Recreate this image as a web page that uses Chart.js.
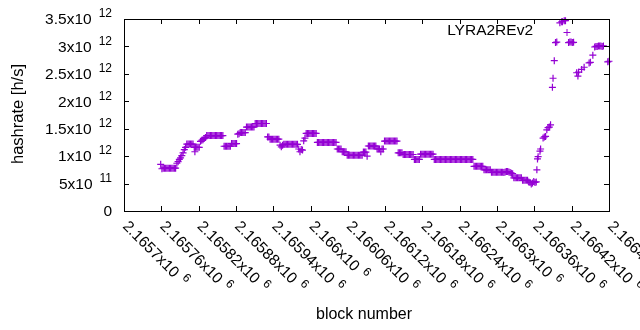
<html>
  <head>
    <script type="text/javascript" src="https://cdn.jsdelivr.net/npm/chart.js@4/dist/chart.umd.min.js"></script>
    <style>
      body { margin: 0; background: #fff; }
    </style>
  </head>
  <body>
    <canvas id="hashrate" width="640" height="330"></canvas>
    <script type="text/javascript">

// block heights (x) and hashrate in units of 10^12 h/s (y)
var blocks = [
  2165759,
  2165761, 2165763, 2165765, 2165767, 2165769, 2165771, 2165773, 2165775, 2165777, 2165779, 2165781, 2165783,
  2165785, 2165787, 2165789, 2165791, 2165793, 2165795, 2165797, 2165799,
  2165801, 2165803, 2165805, 2165807, 2165809, 2165811,
  2165813, 2165814, 2165815, 2165817, 2165819, 2165821,
  2165823, 2165825, 2165827, 2165829, 2165831,
  2165833, 2165835, 2165837, 2165839, 2165841, 2165843, 2165845, 2165847, 2165849, 2165851, 2165853, 2165855, 2165857, 2165859,
  2165861, 2165863, 2165865, 2165867, 2165869, 2165871,
  2165873, 2165875, 2165877, 2165879, 2165881,
  2165883, 2165885, 2165887, 2165889, 2165891, 2165893, 2165895,
  2165897, 2165899, 2165901, 2165903, 2165905, 2165907, 2165909,
  2165911, 2165913, 2165915, 2165917, 2165919, 2165921, 2165923, 2165925, 2165927, 2165929,
  2165931, 2165933, 2165935, 2165937, 2165939, 2165941, 2165943, 2165945, 2165947, 2165949,
  2165951, 2165953, 2165955,
  2165957, 2165959, 2165961, 2165963, 2165965, 2165967, 2165969, 2165971, 2165973, 2165975, 2165977, 2165979,
  2165981, 2165983, 2165985, 2165987,
  2165989, 2165991,
  2165993, 2165995, 2165997, 2165999, 2166001, 2166003, 2166005, 2166007, 2166009,
  2166011, 2166013, 2166015, 2166017, 2166019, 2166021, 2166023, 2166025, 2166027, 2166029, 2166031, 2166033, 2166035, 2166037, 2166039, 2166041,
  2166043, 2166045, 2166047, 2166049,
  2166051, 2166053, 2166055, 2166057,
  2166059, 2166061, 2166063, 2166065, 2166067, 2166069, 2166071, 2166073, 2166075, 2166077, 2166079, 2166081, 2166083,
  2166085, 2166087, 2166089,
  2166091,
  2166093, 2166095, 2166097, 2166099, 2166101, 2166103, 2166105,
  2166107, 2166109, 2166111, 2166113, 2166115, 2166117,
  2166119, 2166121, 2166123, 2166125, 2166127, 2166129, 2166131, 2166133, 2166135, 2166137, 2166139,
  2166141, 2166143, 2166145, 2166147,
  2166149, 2166151, 2166153, 2166155, 2166157, 2166159, 2166161, 2166163, 2166165,
  2166167, 2166169, 2166171, 2166173, 2166175,
  2166177, 2166179, 2166181, 2166183, 2166185, 2166187, 2166189, 2166191, 2166193, 2166195, 2166197,
  2166199, 2166201, 2166203, 2166205, 2166207, 2166209, 2166211, 2166213, 2166215, 2166217, 2166219, 2166221, 2166223, 2166225, 2166227, 2166229,
  2166231, 2166233, 2166235, 2166237, 2166239, 2166241, 2166243, 2166245, 2166247, 2166249, 2166251, 2166253, 2166255, 2166257, 2166259, 2166261,
  2166263, 2166265, 2166267, 2166269, 2166271, 2166273, 2166275, 2166277,
  2166279, 2166281, 2166283, 2166285, 2166287, 2166289,
  2166291, 2166293, 2166295, 2166297, 2166299, 2166301, 2166303, 2166305, 2166307, 2166309,
  2166311, 2166313, 2166315, 2166317, 2166319, 2166321, 2166323, 2166325,
  2166327, 2166329, 2166331, 2166333, 2166335, 2166337, 2166339,
  2166341, 2166343, 2166345, 2166347, 2166349,
  2166351, 2166353, 2166355, 2166357, 2166359, 2166361, 2166363,
  2166364, 2166365, 2166366, 2166369, 2166370,
  2166374, 2166376, 2166378,
  2166380, 2166382, 2166384, 2166386,
  2166389, 2166390, 2166392, 2166394, 2166396,
  2166401, 2166404, 2166405, 2166408, 2166410,
  2166415, 2166417, 2166419, 2166421, 2166423,
  2166428, 2166430, 2166431, 2166436, 2166440,
  2166448, 2166450, 2166454,
  2166457, 2166459, 2166461, 2166463, 2166465, 2166467, 2166469, 2166471,
  2166478, 2166480
]

var hashrate = [
  0.85,
  0.77, 0.78, 0.78, 0.78, 0.78, 0.78, 0.78, 0.78, 0.78, 0.78, 0.78, 0.78,
  0.87, 0.90, 0.94, 0.97, 1.01, 1.06, 1.12, 1.16,
  1.22, 1.22, 1.22, 1.22, 1.22, 1.22,
  1.16, 1.08, 1.16, 1.16, 1.16, 1.16,
  1.27, 1.29, 1.30, 1.32, 1.34,
  1.375, 1.375, 1.375, 1.375, 1.375, 1.375, 1.375, 1.375, 1.375, 1.375, 1.375, 1.375, 1.375, 1.375,
  1.18, 1.18, 1.18, 1.18, 1.18, 1.18,
  1.23, 1.23, 1.23, 1.23, 1.23,
  1.40, 1.41, 1.43, 1.43, 1.43, 1.43, 1.43,
  1.53, 1.53, 1.53, 1.53, 1.53, 1.53, 1.53,
  1.595, 1.595, 1.595, 1.595, 1.595, 1.595, 1.595, 1.595, 1.595, 1.595,
  1.35, 1.35, 1.31, 1.31, 1.31, 1.31, 1.31, 1.31, 1.31, 1.31,
  1.20, 1.17, 1.20,
  1.215, 1.215, 1.215, 1.215, 1.215, 1.215, 1.215, 1.215, 1.215, 1.215, 1.215, 1.215,
  1.13, 1.08, 1.12, 1.11,
  1.28, 1.33,
  1.415, 1.415, 1.415, 1.415, 1.415, 1.415, 1.415, 1.415, 1.415,
  1.25, 1.25, 1.25, 1.25, 1.25, 1.25, 1.25, 1.25, 1.25, 1.25, 1.25, 1.25, 1.25, 1.25, 1.25, 1.25,
  1.13, 1.13, 1.13, 1.13,
  1.08, 1.08, 1.08, 1.08,
  1.015, 1.015, 1.015, 1.015, 1.015, 1.015, 1.015, 1.015, 1.015, 1.015, 1.015, 1.015, 1.015,
  1.075, 1.075, 1.075,
  1.00,
  1.185, 1.185, 1.185, 1.185, 1.185, 1.185, 1.185,
  1.13, 1.13, 1.13, 1.08, 1.13, 1.13,
  1.275, 1.275, 1.275, 1.275, 1.275, 1.275, 1.275, 1.275, 1.275, 1.275, 1.275,
  1.06, 1.06, 1.06, 1.06,
  1.03, 1.03, 1.03, 1.03, 1.03, 1.03, 1.03, 1.03, 1.03,
  0.94, 0.94, 0.94, 0.94, 0.94,
  1.035, 1.035, 1.035, 1.035, 1.035, 1.035, 1.035, 1.035, 1.035, 1.035, 1.035,
  0.94, 0.94, 0.94, 0.94, 0.94, 0.94, 0.94, 0.94, 0.94, 0.94, 0.94, 0.94, 0.94, 0.94, 0.94, 0.94,
  0.94, 0.94, 0.94, 0.94, 0.94, 0.94, 0.94, 0.94, 0.94, 0.94, 0.94, 0.94, 0.94, 0.94, 0.94, 0.94,
  0.815, 0.815, 0.815, 0.815, 0.815, 0.815, 0.815, 0.815,
  0.75, 0.75, 0.75, 0.75, 0.75, 0.75,
  0.705, 0.705, 0.705, 0.705, 0.705, 0.705, 0.705, 0.705, 0.705, 0.705,
  0.70, 0.71, 0.72, 0.72, 0.71, 0.70, 0.69, 0.68,
  0.605, 0.605, 0.605, 0.605, 0.605, 0.605, 0.605,
  0.56, 0.56, 0.56, 0.56, 0.56,
  0.53, 0.52, 0.49, 0.51, 0.54, 0.52, 0.53,
  0.75, 0.95, 0.99, 1.09, 1.13,
  1.33, 1.35, 1.36,
  1.48, 1.52, 1.53, 1.57,
  2.255, 2.42, 2.74, 3.07, 3.08,
  3.43, 3.45, 3.45, 3.47, 3.47,
  3.07, 3.08, 3.08, 3.07, 3.075,
  2.52, 2.46, 2.53, 2.58, 2.62,
  2.70, 2.71, 2.84,
  2.99, 3.00, 3.00, 3.01, 3.01, 3.01, 3.00, 3.01,
  2.72, 2.73
]

var series_label = "LYRA2REv2"

var x_tick_values   = [2165700, 2165760, 2165820, 2165880, 2165940, 2166000, 2166060,
                       2166120, 2166180, 2166240, 2166300, 2166360, 2166420, 2166480]
var x_tick_mantissa = ["2.1657", "2.16576", "2.16582", "2.16588", "2.16594", "2.166", "2.16606",
                       "2.16612", "2.16618", "2.16624", "2.1663", "2.16636", "2.16642", "2.16648"]
var x_tick_exponent = "6"

var y_tick_values   = [0, 0.5, 1, 1.5, 2, 2.5, 3, 3.5]
var y_tick_mantissa = ["0", "5", "1", "1.5", "2", "2.5", "3", "3.5"]
var y_tick_exponent = ["", "11", "12", "12", "12", "12", "12", "12"]

var x_title = "block number"
var y_title = "hashrate [h/s]"

if (blocks.length != hashrate.length) console.error("length mismatch", blocks.length, hashrate.length)

var purple = "#9400d3"
var font_main = '15.5px "Liberation Sans"'
var font_sup = '12px "Liberation Sans"'

// gnuplot style frame: box, inward mirrored ticks, x10^n labels, key
var gnuplot_frame = {
  id: "gnuplot_frame",
  afterDraw: function(chart) {
    var ctx = chart.ctx
    var a = chart.chartArea
    var xs = chart.scales.x
    var ys = chart.scales.y
    ctx.save()
    ctx.strokeStyle = "#000"
    ctx.lineWidth = 1
    ctx.strokeRect(a.left + 0.5, a.top + 0.5, a.right - a.left, a.bottom - a.top)

    ctx.beginPath()
    y_tick_values.forEach(function(v) {
      var py = Math.round(ys.getPixelForValue(v)) + 0.5
      ctx.moveTo(a.left, py); ctx.lineTo(a.left + 5, py)
      ctx.moveTo(a.right, py); ctx.lineTo(a.right - 5, py)
    })
    x_tick_values.forEach(function(v) {
      var px = Math.round(xs.getPixelForValue(v)) + 0.5
      ctx.moveTo(px, a.bottom); ctx.lineTo(px, a.bottom - 5)
      ctx.moveTo(px, a.top); ctx.lineTo(px, a.top + 5)
    })
    ctx.stroke()

    ctx.fillStyle = "#000"
    ctx.textBaseline = "middle"

    // y tick labels
    y_tick_values.forEach(function(v, i) {
      var py = ys.getPixelForValue(v)
      var right = 112
      ctx.textAlign = "right"
      if (y_tick_exponent[i]) {
        ctx.font = font_sup
        var w = ctx.measureText(y_tick_exponent[i]).width
        ctx.fillText(y_tick_exponent[i], right, py - 5)
        ctx.font = font_main
        ctx.fillText(y_tick_mantissa[i] + "x10", right - w - 7, py + 1)
      } else {
        ctx.font = font_main
        ctx.fillText(y_tick_mantissa[i], right, py + 1)
      }
    })

    // x tick labels, rotated by -45 deg (reading downwards)
    x_tick_values.forEach(function(v, i) {
      var px = xs.getPixelForValue(v)
      ctx.save()
      ctx.translate(px + 1, 224)
      ctx.rotate(Math.PI / 4)
      ctx.textAlign = "left"
      ctx.font = font_main
      var txt = x_tick_mantissa[i] + "x10"
      var w = ctx.measureText(txt).width
      ctx.fillText(txt, 0, 0)
      ctx.font = font_sup
      ctx.fillText(x_tick_exponent, w + 6, -5)
      ctx.restore()
    })

    // axis titles
    ctx.font = '16px "Liberation Sans"'
    ctx.textAlign = "center"
    ctx.fillText(x_title, 364, 315)
    ctx.save()
    ctx.translate(18, 114)
    ctx.rotate(-Math.PI / 2)
    ctx.font = '16.5px "Liberation Sans"'
    ctx.fillText(y_title, 0, 0)
    ctx.restore()

    // key
    ctx.font = '15.5px "Liberation Sans"'
    ctx.textAlign = "right"
    ctx.fillText(chart.data.datasets[0].label, 533, 31)
    ctx.strokeStyle = purple
    ctx.beginPath()
    ctx.moveTo(563.5, 32.5); ctx.lineTo(570.5, 32.5)
    ctx.moveTo(567, 29); ctx.lineTo(567, 36)
    ctx.stroke()
    ctx.restore()
  }
}

var points = blocks.map(function(b, i) { return { x: b, y: hashrate[i] } })

var ctx = document.getElementById("hashrate").getContext("2d")

var config = {
  type: "scatter",
  data: {
    datasets: [{
      label: series_label,
      data: points,
      pointStyle: "cross",
      pointRadius: 3.5,
      pointBorderWidth: 1.2,
      borderColor: purple,
      backgroundColor: purple,
      clip: false
    }]
  },
  options: {
    responsive: false,
    animation: false,
    events: [],
    layout: { padding: { left: 124, right: 31, top: 19, bottom: 119 } },
    plugins: { legend: { display: false }, tooltip: { enabled: false } },
    scales: {
      x: { type: "linear", display: false, min: 2165700, max: 2166480 },
      y: { type: "linear", display: false, min: 0, max: 3.5 }
    }
  },
  plugins: [gnuplot_frame]
}

var chart = new Chart(ctx, config)

    </script>
  </body>
</html>
